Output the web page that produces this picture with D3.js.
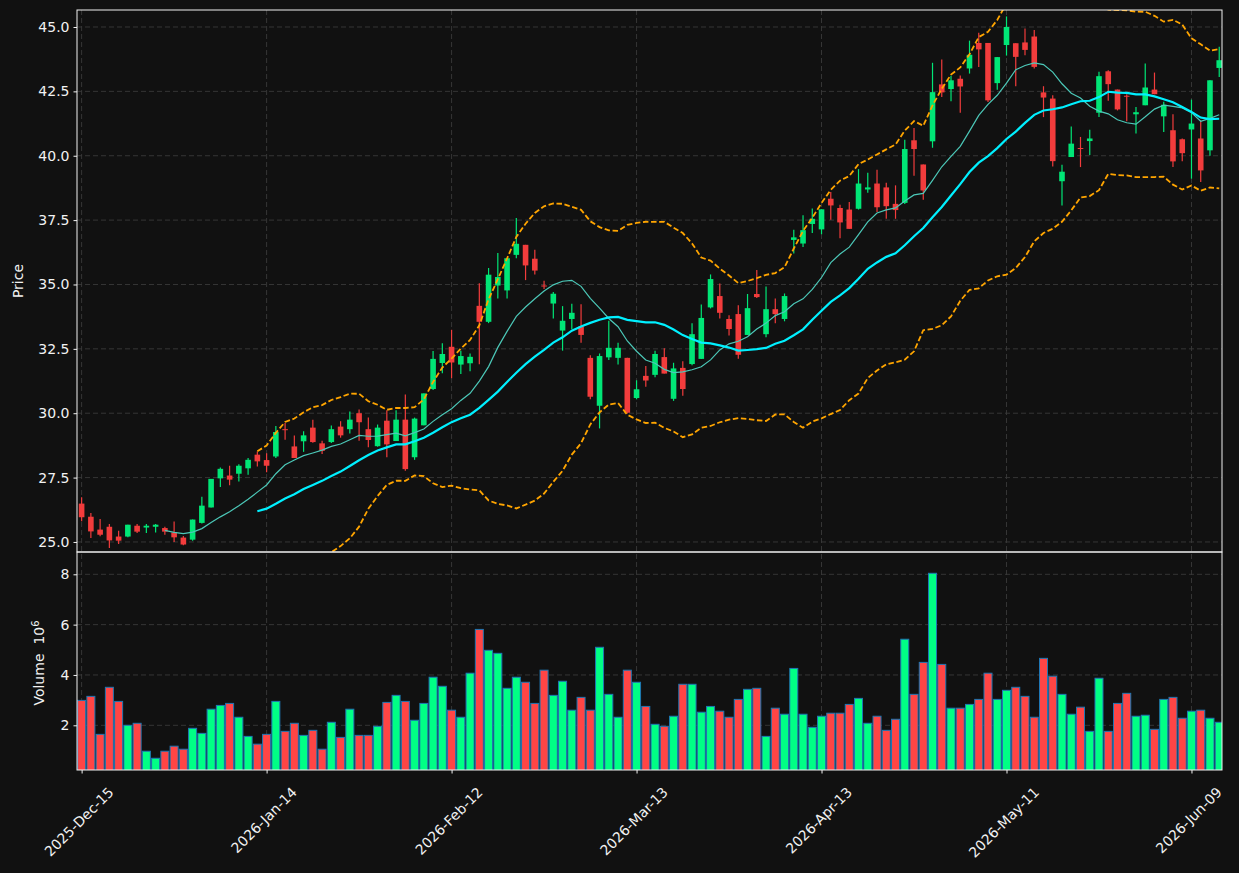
<!DOCTYPE html>
<html>
<head>
<meta charset="utf-8">
<script src="https://cdn.jsdelivr.net/npm/d3@7"></script>
<style>
body { margin: 0; background: #111111; }
text { font-family: "DejaVu Sans", sans-serif; fill: #f2f2f2; }
</style>
</head>
<body>
<svg id="chart" width="1239" height="873"></svg>
<script>
// daily OHLC (index 0 = 2025-Dec-15)
var opens = [26.49,25.98,25.48,25.59,25.21,25.21,25.63,25.56,25.59,25.54,
25.37,25.17,25.09,25.74,26.34,27.47,27.58,27.65,27.86,28.39,
28.18,28.32,29.38,28.71,28.91,29.44,28.83,28.88,29.48,29.38,
30.00,29.38,28.72,29.71,28.92,29.75,28.29,29.53,30.94,31.95,
32.58,31.89,31.94,34.17,33.55,34.96,34.77,36.15,36.54,36.00,
34.96,34.26,33.21,33.66,33.37,32.15,30.29,32.17,32.15,32.15,
30.59,31.45,31.49,32.18,30.56,31.76,31.91,32.11,34.11,34.55,
33.66,33.85,33.04,34.63,33.07,34.04,33.66,36.73,36.59,37.35,
37.14,38.33,37.97,37.91,37.94,38.69,38.92,38.77,38.13,38.17,
40.60,39.66,40.56,42.77,42.59,42.99,43.39,44.38,44.38,42.82,
44.30,44.37,44.40,44.63,42.46,42.22,39.01,39.95,40.30,40.57,
41.67,43.28,42.57,42.33,41.61,41.96,42.57,41.53,40.99,40.64,
41.02,40.67,40.21,43.41];

var highs = [26.74,26.12,25.89,25.70,25.44,25.67,25.70,25.70,25.70,25.59,
25.79,25.23,25.87,26.76,27.45,27.89,27.96,28.02,28.26,28.51,
28.45,29.50,29.62,29.13,29.30,29.75,28.93,29.52,29.69,30.07,
30.14,29.83,29.56,30.12,30.12,30.73,29.83,30.77,32.42,32.72,
33.24,32.43,32.32,35.05,35.64,36.22,36.02,37.58,36.54,36.35,
35.14,34.71,34.16,34.25,34.23,32.25,32.32,33.59,32.74,32.15,
31.28,31.83,32.43,32.52,31.96,32.02,33.49,34.22,35.39,35.04,
33.80,34.19,34.63,35.56,34.92,34.46,34.65,37.13,37.69,37.95,
37.92,38.59,38.10,38.20,39.48,39.34,39.46,38.95,38.85,40.62,
41.08,39.66,43.61,43.74,43.11,43.12,44.47,44.78,44.38,43.83,
45.41,44.37,44.94,44.88,42.70,42.35,39.65,41.14,40.73,41.01,
43.26,43.32,42.57,42.39,41.89,43.58,43.23,42.10,41.61,40.67,
42.18,41.37,42.93,44.23];

var lows = [25.80,25.15,25.22,24.77,24.92,25.18,25.35,25.35,25.37,25.28,
25.00,24.87,25.05,25.72,26.34,27.13,27.20,27.35,27.61,27.93,
27.71,28.26,28.97,28.26,28.50,28.85,28.42,28.84,29.05,29.21,
28.93,28.68,28.70,28.29,28.92,27.77,28.19,29.53,30.90,31.55,
31.36,31.52,31.63,31.90,33.50,34.46,34.46,36.02,35.17,35.39,
34.82,33.68,32.43,33.26,32.74,30.54,29.41,32.07,31.89,29.99,
30.54,31.03,31.40,31.54,30.48,30.68,31.86,32.11,34.07,33.68,
33.02,32.12,33.04,34.47,32.95,33.49,33.57,36.20,36.46,37.00,
36.95,37.51,36.80,37.16,37.91,38.56,37.81,37.55,37.55,38.13,
39.22,38.29,40.31,42.28,42.12,41.67,43.19,43.45,42.09,42.56,
43.89,42.70,43.90,43.39,41.50,39.58,38.07,39.95,39.56,40.03,
41.50,42.14,41.76,41.34,40.86,41.96,42.39,40.92,39.56,39.79,
39.11,38.98,40.00,43.06];

var closes = [25.96,25.41,25.28,25.06,25.05,25.67,25.40,25.63,25.67,25.40,
25.18,24.90,25.87,26.41,27.45,27.84,27.42,27.96,28.19,28.13,
27.96,29.27,29.35,28.26,29.14,28.88,28.54,29.38,29.14,29.75,
29.65,28.96,29.44,28.79,29.75,27.83,29.79,30.77,32.11,32.30,
31.97,32.22,32.19,33.55,35.38,35.29,36.02,36.58,35.74,35.54,
34.93,34.64,33.59,33.90,33.04,30.64,32.22,32.54,32.54,30.02,
30.93,31.27,32.30,31.54,31.74,30.94,33.07,33.70,35.21,33.90,
33.27,32.27,34.08,34.51,34.04,33.85,34.55,36.83,37.11,37.55,
37.92,38.07,37.41,37.16,38.92,38.77,38.00,38.04,37.89,40.26,
40.26,38.65,42.47,42.46,42.93,42.69,43.92,44.13,42.15,43.83,
45.00,43.84,44.11,43.45,42.26,39.79,39.38,40.47,40.27,40.67,
43.09,42.78,41.80,42.31,41.69,42.65,42.39,41.98,39.78,40.10,
41.25,39.43,42.93,43.71];

// volume in millions
var volumes = [2.99,3.15,1.64,3.51,2.95,2.00,2.08,0.97,0.69,0.97,
1.17,1.05,1.88,1.68,2.64,2.79,2.87,2.32,1.56,1.25,
1.64,2.95,1.76,2.08,1.60,1.80,1.05,2.12,1.52,2.64,
1.60,1.60,1.96,2.91,3.19,2.95,2.20,2.87,3.91,3.55,
2.60,2.32,4.07,5.81,4.98,4.86,3.47,3.91,3.71,2.87,
4.19,3.19,3.75,2.60,3.11,2.60,5.10,3.23,2.32,4.19,
3.71,2.75,2.04,1.96,2.36,3.63,3.63,2.52,2.75,2.56,
2.32,3.03,3.43,3.47,1.56,2.68,2.44,4.26,2.44,1.92,
2.36,2.48,2.48,2.83,3.07,2.08,2.36,1.80,2.24,5.42,
3.23,4.50,8.04,4.42,2.68,2.68,2.83,3.03,4.07,3.03,
3.39,3.51,3.15,2.32,4.66,3.95,3.23,2.44,2.72,1.76,
3.87,1.76,2.87,3.27,2.36,2.40,1.84,3.03,3.11,2.28,
2.56,2.60,2.28,2.12];

var tickIdx = [0, 20, 40, 60, 80, 100, 120];
var tickLabels = ["2025-Dec-15", "2026-Jan-14", "2026-Feb-12", "2026-Mar-13", "2026-Apr-13", "2026-May-11", "2026-Jun-09"];
var priceTicks = [25, 27.5, 30, 32.5, 35, 37.5, 40, 42.5, 45];
var volTicks = [2, 4, 6, 8];

var left = 77, right = 1222, pTop = 10, pBot = 552, vBot = 770;
var upC = "#00e676", downC = "#f23c3c";
var volUp = "#00ff85", volDown = "#ff4545";
var gridC = "#3a3a3a";

var svg = d3.select("#chart");
svg.append("rect").attr("width", 1239).attr("height", 873).attr("fill", "#111111");

var x = d3.scaleLinear().domain([-0.5, 123.3]).range([left, right]);
var y = d3.scaleLinear().domain([24.61, 45.66]).range([pBot, pTop]);
var yv = d3.scaleLinear().domain([0.224, 8.886]).range([vBot, pBot]);

var data = closes.map(function(c, i) {
	return {i: i, o: opens[i], h: highs[i], l: lows[i], c: c, v: volumes[i]};
});

// rolling stats
function rolling(n) {
	var out = [];
	for (var i = n - 1; i < closes.length; i++) {
		var w = closes.slice(i - n + 1, i + 1);
		out.push({i: i, mean: d3.mean(w), sd: d3.deviation(w)});
	}
	return out;
}
var ma10 = rolling(10);
var ma20 = rolling(20);

var defs = svg.append("defs");
defs.append("clipPath").attr("id", "clipP").append("rect")
	.attr("x", left).attr("y", pTop).attr("width", right - left).attr("height", pBot - pTop);
defs.append("clipPath").attr("id", "clipV").append("rect")
	.attr("x", left).attr("y", pBot).attr("width", right - left).attr("height", vBot - pBot);

// grid
var grid = svg.append("g").attr("stroke", gridC).attr("stroke-width", 0.9).attr("stroke-dasharray", "5,3");
grid.selectAll("line.gx").data(tickIdx).enter().append("line")
	.attr("x1", function(d) { return x(d); }).attr("x2", function(d) { return x(d); })
	.attr("y1", pTop).attr("y2", vBot);
grid.selectAll("line.gy").data(priceTicks).enter().append("line")
	.attr("x1", left).attr("x2", right)
	.attr("y1", function(d) { return y(d); }).attr("y2", function(d) { return y(d); });
grid.selectAll("line.gv").data(volTicks).enter().append("line")
	.attr("x1", left).attr("x2", right)
	.attr("y1", function(d) { return yv(d); }).attr("y2", function(d) { return yv(d); });

// price panel
var pg = svg.append("g").attr("clip-path", "url(#clipP)");

var candles = pg.append("g").selectAll("g").data(data).enter().append("g");
candles.append("line")
	.attr("x1", function(d) { return x(d.i); }).attr("x2", function(d) { return x(d.i); })
	.attr("y1", function(d) { return y(d.h); }).attr("y2", function(d) { return y(d.l); })
	.attr("stroke", function(d) { return d.c >= d.o ? upC : downC; })
	.attr("stroke-width", 1.2);
candles.append("rect")
	.attr("x", function(d) { return x(d.i) - 2.8; })
	.attr("width", 5.6)
	.attr("y", function(d) { return y(Math.max(d.o, d.c)); })
	.attr("height", function(d) { return Math.max(1, Math.abs(y(d.o) - y(d.c))); })
	.attr("fill", function(d) { return d.c >= d.o ? upC : downC; });

var line = function(acc) {
	return d3.line().x(function(d) { return x(d.i); }).y(function(d) { return y(acc(d)); });
};

pg.append("path").datum(ma10)
	.attr("d", line(function(d) { return d.mean; }))
	.attr("fill", "none").attr("stroke", "#4cc8b8").attr("stroke-width", 1.2);
pg.append("path").datum(ma20)
	.attr("d", line(function(d) { return d.mean; }))
	.attr("fill", "none").attr("stroke", "#00f0ff").attr("stroke-width", 2.2);
pg.append("path").datum(ma20)
	.attr("d", line(function(d) { return d.mean + 2 * d.sd; }))
	.attr("fill", "none").attr("stroke", "#ffa500").attr("stroke-width", 1.8).attr("stroke-dasharray", "5.5,2.6");
pg.append("path").datum(ma20)
	.attr("d", line(function(d) { return d.mean - 2 * d.sd; }))
	.attr("fill", "none").attr("stroke", "#ffa500").attr("stroke-width", 1.8).attr("stroke-dasharray", "5.5,2.6");

// volume panel
svg.append("g").attr("clip-path", "url(#clipV)")
	.selectAll("rect").data(data).enter().append("rect")
	.attr("x", function(d) { return x(d.i) - 4; })
	.attr("width", 8)
	.attr("y", function(d) { return yv(d.v); })
	.attr("height", function(d) { return yv(0.224) - yv(d.v) + 2; })
	.attr("fill", function(d) { return d.c >= d.o ? volUp : volDown; })
	.attr("stroke", "#1f77b4").attr("stroke-width", 1);

// frames
svg.append("rect").attr("x", left).attr("y", pTop).attr("width", right - left).attr("height", pBot - pTop)
	.attr("fill", "none").attr("stroke", "#f2f2f2").attr("stroke-width", 1);
svg.append("rect").attr("x", left).attr("y", pBot).attr("width", right - left).attr("height", vBot - pBot)
	.attr("fill", "none").attr("stroke", "#f2f2f2").attr("stroke-width", 1);

// axes
var ay = svg.append("g").attr("transform", "translate(" + left + ",0)")
	.call(d3.axisLeft(y).tickValues(priceTicks).tickFormat(d3.format(".1f")).tickSize(3.5).tickPadding(4));
var av = svg.append("g").attr("transform", "translate(" + left + ",0)")
	.call(d3.axisLeft(yv).tickValues(volTicks).tickFormat(d3.format("d")).tickSize(3.5).tickPadding(4));
var ax = svg.append("g").attr("transform", "translate(0," + vBot + ")")
	.call(d3.axisBottom(x).tickValues(tickIdx).tickFormat("").tickSize(3.5));
[ay, av, ax].forEach(function(a) {
	a.select(".domain").remove();
	a.selectAll(".tick line").attr("stroke", "#f2f2f2");
	a.selectAll(".tick text").attr("fill", "#f2f2f2").style("font-size", "14px").style("font-family", "DejaVu Sans");
});

// rotated date labels (centered on tick, top aligned)
tickIdx.forEach(function(t, k) {
	var tx = svg.append("text")
		.attr("text-anchor", "middle")
		.attr("dominant-baseline", "central")
		.style("font-size", "14px")
		.text(tickLabels[k]);
	var L = tx.node().getComputedTextLength();
	var hh = (L + 16) * Math.SQRT1_2;
	var cx = x(t) - 2.7, cy = vBot + 14 + hh / 2;
	tx.attr("transform", "translate(" + cx + "," + cy + ") rotate(-45)");
});

// axis labels
svg.append("text")
	.attr("transform", "translate(18," + ((pTop + pBot) / 2) + ") rotate(-90)")
	.attr("text-anchor", "middle").attr("dominant-baseline", "central")
	.style("font-size", "14px").text("Price");
var vl = svg.append("text")
	.attr("transform", "translate(39," + ((pBot + vBot) / 2 + 2) + ") rotate(-90)")
	.attr("text-anchor", "middle").attr("dominant-baseline", "central")
	.style("font-size", "14px").style("white-space", "pre");
vl.append("tspan").text("Volume  10");
vl.append("tspan").attr("dy", "-0.45em").style("font-size", "10px").text("6");
</script>
</body>
</html>
